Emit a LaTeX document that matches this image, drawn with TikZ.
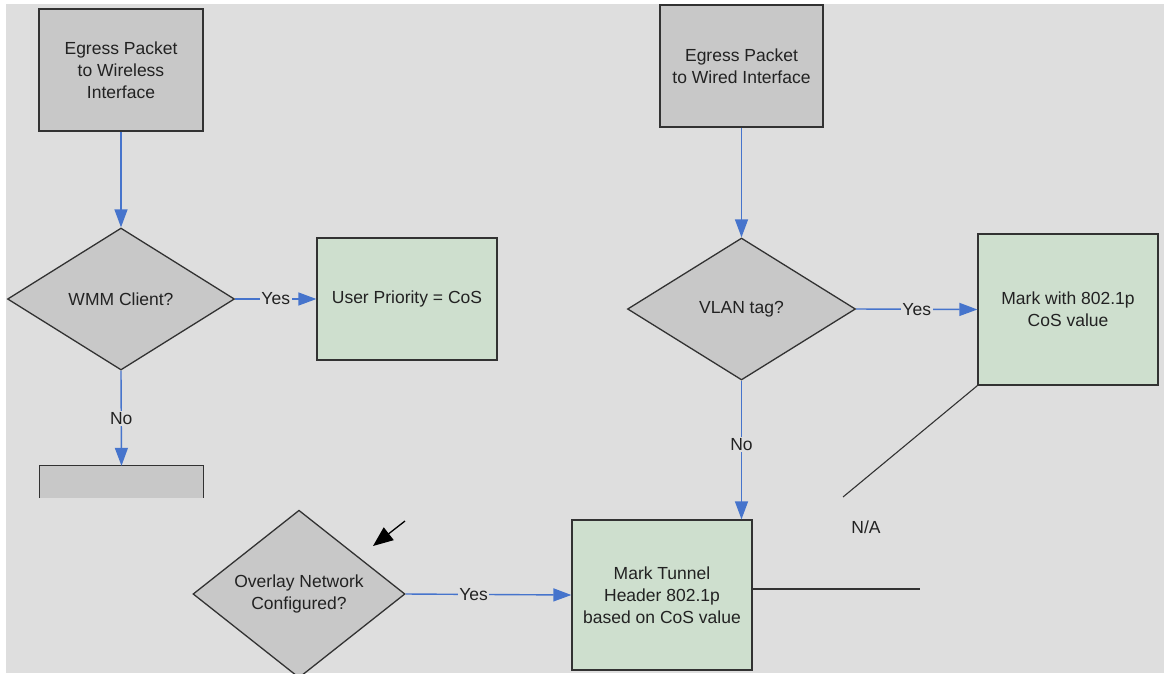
\documentclass[tikz,border=0pt]{standalone}
\usepackage{fontspec}
\setmainfont{Liberation Sans}
\usetikzlibrary{shapes.geometric,arrows.meta}

\definecolor{canvas}{RGB}{222,222,222}
\definecolor{procfill}{RGB}{200,200,200}
\definecolor{actfill}{RGB}{206,223,206}
\definecolor{edge}{RGB}{50,50,50}
\definecolor{flow}{RGB}{70,116,204}
\definecolor{ink}{RGB}{34,34,34}

\tikzset{
  base/.style={draw=edge, line width=1.3pt, text=ink, align=center,
    font=\fontsize{17.5}{22}\selectfont, inner sep=0pt},
  procbox/.style={base, rectangle, fill=procfill},
  actbox/.style={base, rectangle, fill=actfill},
  decision/.style={base, diamond, fill=procfill},
  flowline/.style={draw=flow, line width=1.4pt,
    -{Triangle[length=18pt,width=13pt]}},
  plainline/.style={draw=edge, line width=1.1pt},
  lbl/.style={fill=canvas, text=ink, inner sep=1.5pt,
    font=\fontsize{17.5}{22}\selectfont}
}

\begin{document}
\begin{tikzpicture}[x=1pt,y=-1pt]
  % page and canvas
  \fill[white] (0,0) rectangle (1164,673);
  \fill[canvas] (6,4) rectangle (1164,673);
  \useasboundingbox (0,0) rectangle (1164,673);

  % ---- wireless egress branch ----
  \node[procbox, minimum width=164pt, minimum height=122pt] (wl) at (121,70)
    {Egress Packet\\to Wireless\\Interface};
  \node[decision, minimum width=227pt, minimum height=142pt] (wmm) at (121,299)
    {WMM Client?};
  \node[actbox, minimum width=180pt, minimum height=122pt] (up) at (407,299)
    {User Priority = CoS};
  \node[fill=procfill, minimum width=163pt, minimum height=32pt, inner sep=0pt]
    (nb) at (121.5,482) {};
  \draw[draw=edge, line width=1.3pt]
    (nb.south west) -- (nb.north west) -- (nb.north east) -- (nb.south east);

  \draw[flowline] (wl.south) -- (wmm.north);
  \draw[flowline] (wmm.east) -- node[lbl] {Yes} (up.west);
  \draw[flowline] (wmm.south) -- node[lbl] {No} (nb.north);

  % ---- wired egress branch ----
  \node[procbox, minimum width=163pt, minimum height=122pt] (wd) at (741.5,66)
    {Egress Packet\\to Wired Interface};
  \node[decision, minimum width=228pt, minimum height=142pt] (vlan) at (741.5,309)
    {VLAN tag?};
  \node[actbox, minimum width=180pt, minimum height=151pt] (mark) at (1068,309.5)
    {Mark with 802.1p\\CoS value};

  \node[decision, minimum width=212pt, minimum height=156pt] (ovl) at (299,594)
    {Overlay Network\\Configured?};
  \node[actbox, minimum width=180pt, minimum height=150pt] (tun) at (662,595)
    {Mark Tunnel\\Header 802.1p\\based on CoS value};
  \node[text=ink, font=\fontsize{17.5}{22}\selectfont] (na) at (866,527) {N/A};

  \draw[flowline] (wd.south) -- (vlan.north);
  \draw[flowline] (vlan.east) -- node[lbl] {Yes} (mark.west);
  \draw[flowline] (vlan.south) -- node[lbl, pos=0.46] {No} (vlan.south |- tun.north);
  \draw[flowline] (ovl.east) -- node[lbl, pos=0.41] {Yes} (tun.west);

  % plain connectors
  \coordinate (m1) at (843,497);
  \coordinate (t1) at (920,589);
  \coordinate (a0) at (405,521);
  \coordinate (a1) at (373,546);
  \draw[plainline] (mark.south west) -- (m1);
  \draw[plainline, line width=1.4pt] ([yshift=6pt]tun.east) -- (t1);
  \draw[plainline, black, line width=1.3pt,
    -{Triangle[length=20pt,width=16pt]}] (a0) -- (a1);
\end{tikzpicture}
\end{document}
